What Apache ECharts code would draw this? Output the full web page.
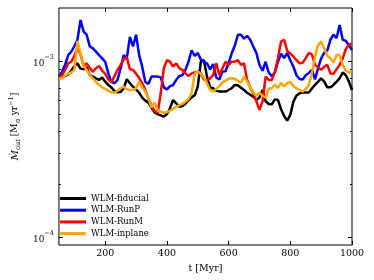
<!DOCTYPE html>
<html><head><meta charset="utf-8">
<script src="https://cdn.jsdelivr.net/npm/echarts@6/dist/echarts.min.js"></script>
<style>html,body{margin:0;padding:0;background:#fff}#c{width:374px;height:280px}</style>
</head><body><div id="c"></div>
<script>
// time in Myr
const times = [50,60,70,80,90,100,110,120,130,140,150,160,170,180,190,200,210,220,230,240,250,260,270,280,290,300,310,320,330,340,350,360,370,380,390,400,410,420,430,440,450,460,470,480,490,500,510,520,530,540,550,560,570,580,590,600,610,620,630,640,650,660,670,680,690,700,710,720,730,740,750,760,770,780,790,800,810,820,830,840,850,860,870,880,890,900,910,920,930,940,950,960,970,980,990,1000];
// outflow rates in units of 1e-4 Msun/yr
const fiducial = [7.95,8.07,8.22,8.37,8.8,9.37,9.7,9.05,8.97,9.2,8.3,8.15,7.97,7.8,8.07,7.63,7.31,7.08,6.75,6.64,6.67,7.0,7.87,7.47,7.15,6.9,6.6,6.19,5.95,5.8,5.43,5.1,4.99,4.91,4.83,4.98,5.39,6.0,5.75,5.5,5.55,5.72,5.98,6.21,6.38,7.15,9.9,10.1,8.15,7.08,7.0,6.78,6.7,6.7,6.7,6.84,7.0,7.31,7.28,7.05,6.84,6.6,6.43,6.27,6.0,6.2,6.84,5.9,5.7,5.67,6.05,6.0,5.32,4.87,4.58,4.94,5.87,6.35,6.55,6.64,6.62,6.62,6.97,7.31,7.63,7.97,7.63,7.08,7.08,7.31,7.63,7.97,8.6,8.3,7.63,6.84];
const runP = [8.15,8.7,9.5,10.8,11.3,12.1,13.2,17.1,14.7,14.1,12.1,11.8,11.3,10.8,10.35,9.9,8.51,7.6,7.47,7.8,9.1,10.8,10.35,13.7,12.1,14.1,10.8,9.28,7.6,7.4,8.15,8.15,8.15,8.07,7.08,6.9,7.2,7.3,7.8,8.2,8.3,8.9,9.9,11.5,10.7,11.1,10.2,9.9,9.7,8.95,9.6,8.05,7.85,8.7,8.75,9.7,11.05,12.2,14.1,14.1,13.4,13.9,13.2,12.1,11.1,9.5,8.8,9.9,8.6,8.2,8.6,9.9,11.0,10.4,11.1,10.1,9.28,8.3,7.9,7.85,8.3,8.55,8.9,7.85,9.1,10.35,11.1,11.5,13.2,14.1,13.5,16.0,13.2,13.0,12.3,11.55];
const runM = [7.95,8.3,8.9,9.7,9.9,10.7,11.8,10.95,9.37,9.7,9.1,8.7,9.1,9.37,8.8,8.45,7.85,7.55,8.2,8.9,9.5,10.2,10.5,8.97,8.9,8.45,8.0,7.47,6.84,6.14,5.56,5.2,5.08,6.55,9.1,10.1,9.9,9.28,9.7,9.1,8.9,8.5,8.2,8.5,8.6,8.7,8.5,7.85,7.8,7.95,8.3,9.7,8.3,9.1,9.9,9.5,9.9,9.9,10.1,9.5,9.7,7.8,7.08,6.55,5.9,5.27,5.9,8.15,7.8,7.8,8.7,10.35,12.9,13.2,11.4,11.05,10.6,10.1,9.7,9.78,10.35,11.1,10.9,9.5,9.2,8.9,9.28,9.5,8.5,8.45,8.97,9.5,10.35,11.7,12.35,12.6];
const inplane = [7.9,8.0,8.25,8.45,8.6,8.9,13.0,10.95,9.37,8.9,8.3,7.97,7.6,7.3,7.08,6.95,6.78,6.64,6.6,6.78,7.0,7.15,6.9,6.84,6.84,7.0,7.63,7.08,6.7,6.14,5.45,5.8,5.22,5.15,5.08,5.12,5.22,5.33,5.5,5.6,5.7,5.87,6.08,6.55,8.45,8.7,8.45,8.07,7.47,6.84,6.7,6.95,7.2,7.55,7.73,7.93,7.97,7.93,7.7,7.5,8.15,7.63,7.08,6.6,6.36,6.6,6.36,6.18,6.95,7.0,7.31,7.0,7.5,7.2,7.47,7.6,7.2,7.0,6.84,6.7,6.9,7.31,8.5,10.55,12.3,12.9,11.8,10.7,10.35,9.8,10.8,10.8,9.5,8.8,8.6,8.7];
const seriesNames = ['WLM-fiducial','WLM-RunP','WLM-RunM','WLM-inplane'];
const seriesColors = ['#000000','#0000ff','#ff0000','#ffa500'];
const UNIT = 1e-4;
const xMin = 50, xMax = 1000;
const xTicks = [200,400,600,800,1000];
const yMin = 9e-5, yMax = 2e-3;
const yMajor = [1e-4, 1e-3];
const yMinor = [2e-4,3e-4,4e-4,5e-4,6e-4,7e-4,8e-4,9e-4];

const FONT = 'DejaVu Serif';
const L = Math.log10;
const allData = [fiducial, runP, runM, inplane];

const chart = echarts.init(document.getElementById('c'), null, {renderer:'canvas'});
const supFmt = v => { const e = Math.round(v); return '{b|10}{s|' + (e < 0 ? '\u2212' : '') + Math.abs(e) + '}'; };
const yBase = {type:'value', min:L(yMin), max:L(yMax), splitLine:{show:false}, axisLine:{show:false}};
chart.setOption({
  animation:false,
  backgroundColor:'#fff',
  grid:{left:48, right:22, top:8, bottom:35, show:true, borderColor:'#000', borderWidth:1, backgroundColor:'transparent'},
  legend:{orient:'vertical', left:55, top:188, icon:'rect', itemWidth:26, itemHeight:3, itemGap:0.7,
    textStyle:{fontFamily:FONT, fontSize:8.5, color:'#000', lineHeight:11},
    data:seriesNames},
  xAxis:[
    {type:'value', min:xMin, max:xMax, position:'bottom', splitLine:{show:false}, axisLine:{show:false},
     axisTick:{inside:true, length:4, customValues:xTicks, lineStyle:{color:'#000'}},
     axisLabel:{customValues:xTicks, margin:4, fontFamily:FONT, fontSize:9.5, color:'#000', formatter:v => String(v)},
     name:'t [Myr]', nameLocation:'middle', nameGap:15, nameTextStyle:{fontFamily:FONT, fontSize:9.5, color:'#000'}},
    {type:'value', min:xMin, max:xMax, position:'top', splitLine:{show:false}, axisLine:{show:false},
     axisTick:{inside:true, length:4, customValues:xTicks, lineStyle:{color:'#000'}},
     axisLabel:{show:false}}
  ],
  yAxis:[
    Object.assign({}, yBase, {position:'left',
      axisTick:{inside:true, length:4, customValues:yMajor.map(L), lineStyle:{color:'#000'}},
      axisLabel:{customValues:yMajor.map(L), margin:5, formatter:supFmt, color:'#000',
        rich:{b:{fontFamily:FONT, fontSize:9, lineHeight:14, verticalAlign:'bottom', color:'#000'},
              s:{fontFamily:FONT, fontSize:6.5, lineHeight:14, verticalAlign:'top', color:'#000'}}},
      name:'{i|\u1E40}{sub|out} [M{sub|\u2299} yr{sup|\u22121}]', nameLocation:'middle', nameGap:25,
      nameTextStyle:{fontFamily:FONT, fontSize:9, color:'#000', lineHeight:14,
        rich:{i:{fontFamily:FONT, fontSize:10, fontStyle:'italic', lineHeight:14, color:'#000'},
              sub:{fontFamily:FONT, fontSize:6.5, verticalAlign:'bottom', lineHeight:14, color:'#000'},
              sup:{fontFamily:FONT, fontSize:6.5, verticalAlign:'top', lineHeight:14, color:'#000'}}}}),
    Object.assign({}, yBase, {position:'left',
      axisTick:{inside:true, length:2, customValues:yMinor.map(L), lineStyle:{color:'#000'}},
      axisLabel:{show:false}}),
    Object.assign({}, yBase, {position:'right',
      axisTick:{inside:true, length:4, customValues:yMajor.map(L), lineStyle:{color:'#000'}},
      axisLabel:{show:false}}),
    Object.assign({}, yBase, {position:'right',
      axisTick:{inside:true, length:2, customValues:yMinor.map(L), lineStyle:{color:'#000'}},
      axisLabel:{show:false}})
  ],
  series: allData.map((arr, k) => ({
    name:seriesNames[k], type:'line', xAxisIndex:0, yAxisIndex:0, showSymbol:false, symbol:'none',
    color:seriesColors[k], lineStyle:{width:2.5, color:seriesColors[k]},
    data: times.map((t, i) => [t, L(arr[i] * UNIT)])
  }))
});
</script></body></html>
